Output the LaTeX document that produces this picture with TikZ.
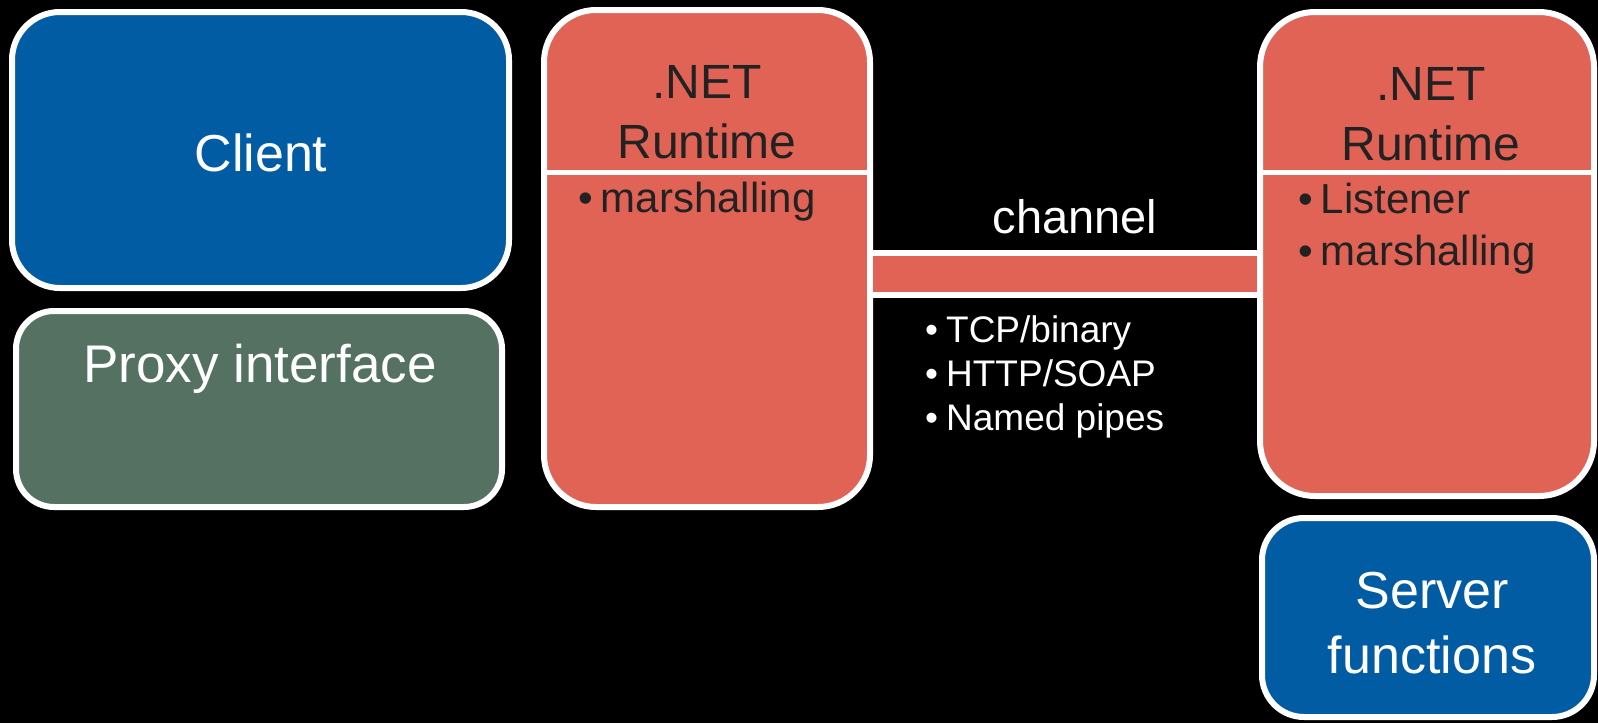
\documentclass[tikz,border=0pt]{standalone}
\usepackage{fontspec}
\setmainfont{Liberation Sans}
\definecolor{boxblue}{HTML}{025CA3}
\definecolor{boxgreen}{HTML}{547162}
\definecolor{boxred}{HTML}{E16356}
\definecolor{darktext}{HTML}{222222}
\newcommand{\bul}[1]{•\hspace{8pt}#1}
\begin{document}
\begin{tikzpicture}[x=1pt, y=-1pt,
    box/.style={draw=white, line width=6pt, inner sep=0pt, outer sep=3pt},
    big/.style={font=\fontsize{52}{65}\selectfont, text=white, inner sep=0pt, align=center},
    title/.style={font=\fontsize{48}{60}\selectfont, text=darktext, inner sep=0pt, align=center},
    item/.style={font=\fontsize{42}{52}\selectfont, text=darktext, inner sep=0pt},
    small/.style={font=\fontsize{37}{44}\selectfont, text=white, inner sep=0pt, align=left},
    sep/.style={draw=white, line width=5pt},
    chanbar/.style={draw=white, line width=6pt, double=boxred, double distance=36pt}]
    \useasboundingbox (0,0) rectangle (1598,723);
    \fill[black] (0,0) rectangle (1598,723);
    % client side
    \node[box, fill=boxblue, rounded corners=48pt, minimum width=497pt, minimum height=276pt] (client) at (260.5,150) {};
    \node[big, anchor=base] (clientT) at (261,171) {Client};
    \node[box, fill=boxgreen, rounded corners=38pt, minimum width=486pt, minimum height=196pt] (proxy) at (259,409) {};
    \node[big, font=\fontsize{53}{65}\selectfont, anchor=base] (proxyT) at (260,382) {Proxy interface};
    % runtimes
    \node[box, fill=boxred, rounded corners=52pt, minimum width=326pt, minimum height=497pt] (rtA) at (707,258.5) {};
    \node[title, anchor=base] (rtAT) at (707,158) {.NET\\Runtime};
    \draw[sep] (rtA.west |- 0,172) -- (rtA.east |- 0,172);
    \node[item, anchor=base west] (rtA1) at (578,212) {\bul{marshalling}};
    \node[box, fill=boxred, rounded corners=55pt, minimum width=334pt, minimum height=484pt] (rtB) at (1427,254) {};
    \node[title, anchor=base] (rtBT) at (1431,160) {.NET\\Runtime};
    \draw[sep] (rtB.west |- 0,172) -- (rtB.east |- 0,172);
    \node[item, anchor=base west] (rtB1) at (1298,213) {\bul{Listener}};
    \node[item, anchor=base west] (rtB2) at (1298,265) {\bul{marshalling}};
    % server side
    \node[box, fill=boxblue, rounded corners=42pt, minimum width=332pt, minimum height=199pt] (server) at (1428,617.5) {};
    \node[big, anchor=base] (serverT) at (1432,673) {Server\\functions};
    % channel
    \draw[chanbar] (rtA.east |- 0,274) -- (rtB.west |- 0,274);
    \node[font=\fontsize{47}{56}\selectfont, text=white, inner sep=0pt, anchor=base] (chanT) at (1075,233) {channel};
    \node[small, anchor=base west] (proto) at (925,430) {\bul{TCP/binary}\\\bul{HTTP/SOAP}\\\bul{Named pipes}};
\end{tikzpicture}
\end{document}
